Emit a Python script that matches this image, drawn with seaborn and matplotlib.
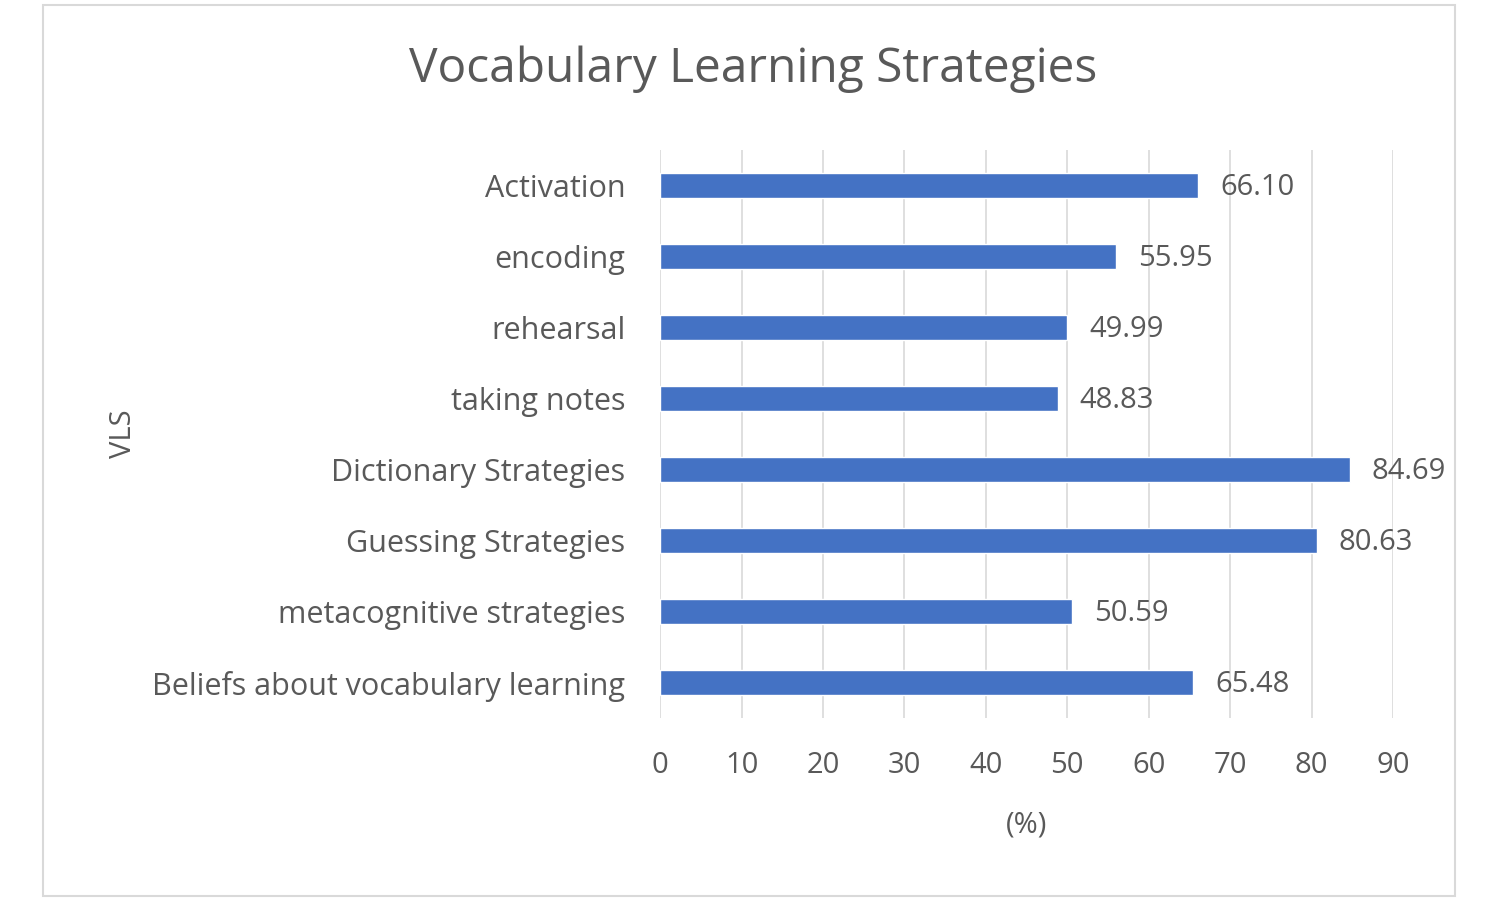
import matplotlib.pyplot as plt
import seaborn as sns
import pandas as pd
from matplotlib.patches import Rectangle

categories = ['Activation', 'encoding', 'rehearsal', 'taking notes', 'Dictionary Strategies',
              'Guessing Strategies', 'metacognitive strategies', 'Beliefs about vocabulary learning']
values = [66.10, 55.95, 49.99, 48.83, 84.69, 80.63, 50.59, 65.48]
x_ticks = [0, 10, 20, 30, 40, 50, 60, 70, 80, 90]

text_color = '#595959'
bar_color = '#4472C4'

sns.set_theme(style='white')
plt.rcParams['font.family'] = ['Open Sans', 'DejaVu Sans']

df = pd.DataFrame({'VLS': categories, 'pct': values})

fig = plt.figure(figsize=(14.89, 9.14), dpi=100)
ax = fig.add_axes([0.4433, 0.2144, 0.4922, 0.6214])

sns.barplot(data=df, x='pct', y='VLS', color=bar_color, width=0.35, saturation=1, ax=ax, zorder=3)

ax.set_xlim(0, 90)
ax.set_ylim(7.5, -0.5)
ax.set_xticks(x_ticks)
ax.xaxis.grid(True, color='#D9D9D9', linewidth=1.2, zorder=0)
ax.yaxis.grid(False)
for s in ax.spines.values():
    s.set_visible(False)
ax.tick_params(axis='both', length=0, labelcolor=text_color)
ax.tick_params(axis='y', pad=25, labelsize=22)
ax.tick_params(axis='x', pad=24, labelsize=21)

for i, v in enumerate(values):
    ax.text(v + 2.7, i + 0.03, f'{v:.2f}', va='center', ha='left', fontsize=21, color=text_color)

ax.set_xlabel('(%)', fontsize=21, color=text_color, labelpad=22)
ax.set_ylabel('VLS', fontsize=21, color=text_color)
ax.yaxis.set_label_coords(-0.712, 0.5)

fig.text(0.5057, 0.924, 'Vocabulary Learning Strategies', ha='center', va='center',
         fontsize=34.5, color=text_color)

fig.patches.append(Rectangle((43 / 1489, 1 - 896 / 914), (1455 - 43) / 1489, (896 - 5) / 914,
                             transform=fig.transFigure, fill=False, edgecolor='#D9D9D9', linewidth=1.5))

fig.savefig('out.png', dpi=100)
